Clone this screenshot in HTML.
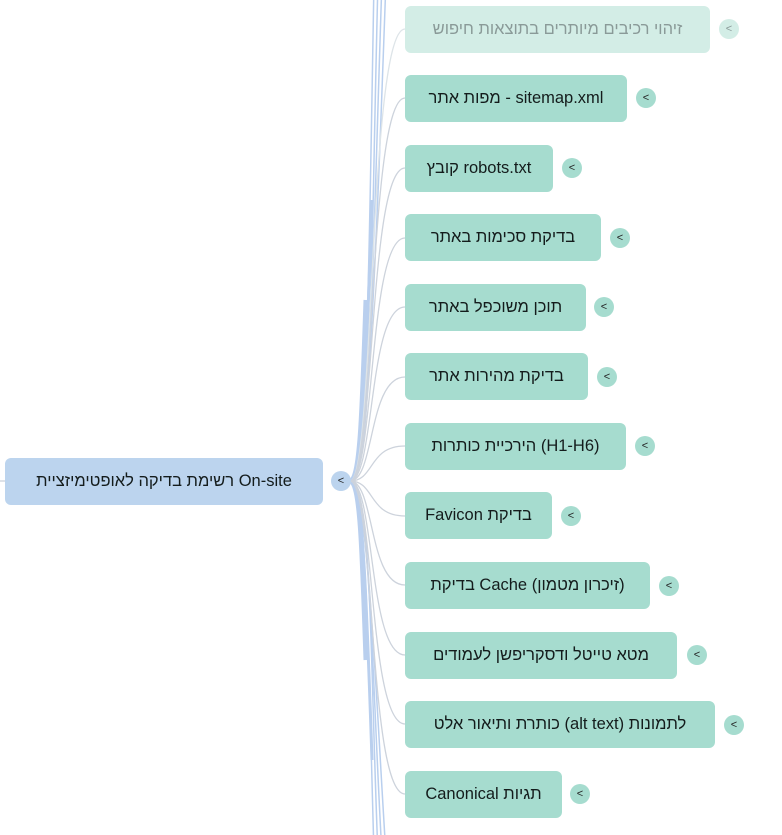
<!DOCTYPE html>
<html><head><meta charset="utf-8"><style>
body{margin:0;width:782px;height:835px;background:#fff;position:relative;overflow:hidden;font-family:"Liberation Sans","Noto Sans CJK SC",sans-serif}
.n{position:absolute;left:405px;height:47px;background:#a6dccf;border-radius:6px;color:#141c1c;font-size:16.5px;line-height:47px;text-align:center;direction:rtl;white-space:nowrap}
.c{position:absolute;width:20px;height:20px;border-radius:50%;background:#a6dccf;font-size:11px;line-height:20px;text-align:center;color:#222}
svg{position:absolute;left:0;top:0}
</style></head><body>
<svg width="782" height="835">
<g fill="none" stroke="#b9cfee" stroke-width="1.5">
<path d="M350 481 C372 481 370 300 378 -20"/>
<path d="M350 481 C370 481 372 280 382 -20"/>
<path d="M350 481 C368 481 376 260 386 -20"/>
<path d="M350 481 C366 481 368 330 374 -20"/>
<path d="M350 481 C372 481 370 660 378 855"/>
<path d="M350 481 C370 481 372 680 382 855"/>
<path d="M350 481 C368 481 376 700 386 855"/>
<path d="M350 481 C366 481 368 640 374 855"/>
<path d="M350 481 C360 481 362 420 366 300" stroke-width="5"/>
<path d="M350 481 C360 481 362 540 366 660" stroke-width="5"/>
<path d="M350 481 C362 481 366 380 372 200" stroke-width="3"/>
<path d="M350 481 C362 481 366 580 372 760" stroke-width="3"/>
</g>
<g fill="none" stroke="#cdd3dc" stroke-width="1.3">
<path d="M350 481 C375 481 368 29 405 29" stroke="#dde4e8"/>
<path d="M350 481 C375 481 368 98 405 98"/>
<path d="M350 481 C375 481 368 168 405 168"/>
<path d="M350 481 C375 481 368 238 405 238"/>
<path d="M350 481 C375 481 368 307 405 307"/>
<path d="M350 481 C375 481 368 377 405 377"/>
<path d="M350 481 C375 481 368 446 405 446"/>
<path d="M350 481 C375 481 368 516 405 516"/>
<path d="M350 481 C375 481 368 585 405 585"/>
<path d="M350 481 C375 481 368 655 405 655"/>
<path d="M350 481 C375 481 368 724 405 724"/>
<path d="M350 481 C375 481 368 794 405 794"/>
<path d="M0 481 L5 481"/>
</g>
</svg>
<div class="n" style="left:5px;top:458px;width:318px;background:#bcd4ee">On-site רשימת בדיקה לאופטימיזציית</div>
<div class="c" style="left:331px;top:471px;background:#bcd4ee">&lt;</div>

<div class="n" style="top:6px;width:305px;background:#d3ede6;color:#8a9a98">זיהוי רכיבים מיותרים בתוצאות חיפוש</div>
<div class="c" style="left:719px;top:19px;background:#d3ede6;color:#8a9a98">&lt;</div>
<div class="n" style="top:75px;width:222px">sitemap.xml - מפות אתר</div>
<div class="c" style="left:636px;top:88px">&lt;</div>
<div class="n" style="top:145px;width:148px">robots.txt קובץ</div>
<div class="c" style="left:562px;top:158px">&lt;</div>
<div class="n" style="top:214px;width:196px">בדיקת סכימות באתר</div>
<div class="c" style="left:610px;top:228px">&lt;</div>
<div class="n" style="top:284px;width:181px">תוכן משוכפל באתר</div>
<div class="c" style="left:594px;top:297px">&lt;</div>
<div class="n" style="top:353px;width:183px">בדיקת מהירות אתר</div>
<div class="c" style="left:597px;top:367px">&lt;</div>
<div class="n" style="top:423px;width:221px">(H1-H6) הירכיית כותרות</div>
<div class="c" style="left:635px;top:436px">&lt;</div>
<div class="n" style="top:492px;width:147px">בדיקת Favicon</div>
<div class="c" style="left:561px;top:506px">&lt;</div>
<div class="n" style="top:562px;width:245px">(זיכרון מטמון) Cache בדיקת</div>
<div class="c" style="left:659px;top:576px">&lt;</div>
<div class="n" style="top:632px;width:272px">מטא טייטל ודסקריפשן לעמודים</div>
<div class="c" style="left:687px;top:645px">&lt;</div>
<div class="n" style="top:701px;width:310px">לתמונות (alt text) כותרת ותיאור אלט</div>
<div class="c" style="left:724px;top:715px">&lt;</div>
<div class="n" style="top:771px;width:157px">תגיות Canonical</div>
<div class="c" style="left:570px;top:784px">&lt;</div>
</body></html>
